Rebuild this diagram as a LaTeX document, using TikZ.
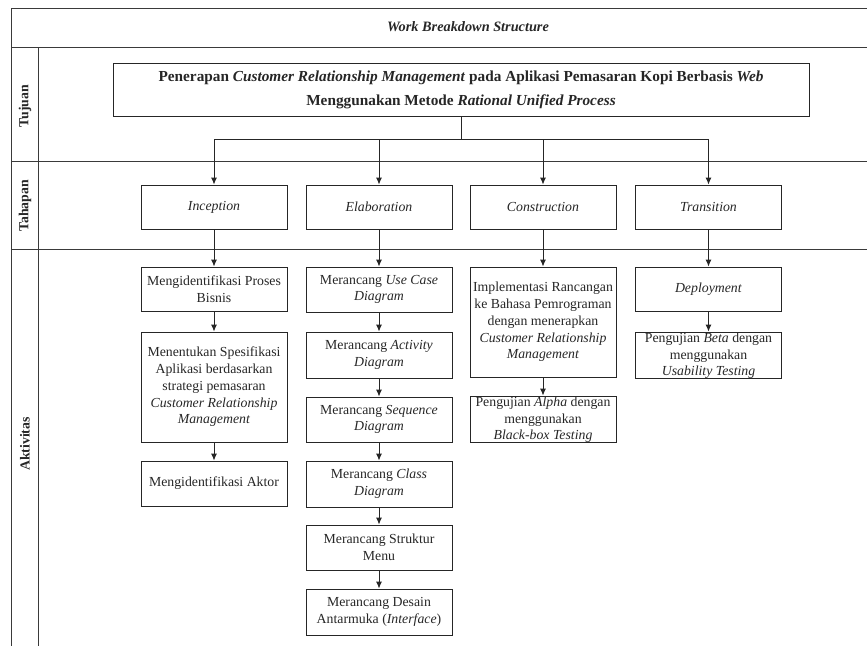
\documentclass[tikz,border=0pt]{standalone}
\usepackage{fontspec}
\setmainfont{Liberation Serif}
\usetikzlibrary{arrows.meta}
\definecolor{ink}{HTML}{262626}
\definecolor{grid}{HTML}{3A3A3A}
\tikzset{
  gridline/.style={draw=grid, line width=0.9pt},
  boxnode/.style={draw=ink, line width=0.9pt, rectangle, align=center, inner sep=1pt,
    minimum width=146pt, text=ink, font=\fontsize{13.8}{16.7}\selectfont},
  phasebox/.style={boxnode, minimum height=44pt},
  txtnode/.style={align=center, inner sep=0pt, text=ink, font=\fontsize{13.8}{16.5}\selectfont},
  mainbox/.style={draw=ink, line width=0.9pt, rectangle, align=center, minimum width=696pt,
    minimum height=53pt, inner sep=0pt, text=ink, font=\fontsize{15.3}{24}\selectfont\bfseries},
  sidelabel/.style={rotate=90, text=ink, font=\fontsize{13.8}{16}\selectfont\bfseries},
  arr/.style={draw=ink, line width=0.9pt, -{Latex[length=7pt,width=6pt]}},
  conn/.style={draw=ink, line width=0.9pt},
}
\begin{document}
\begin{tikzpicture}[x=1pt, y=-1pt]
\useasboundingbox (0,0) rectangle (867,646);
% frame
\draw[gridline] (11,8) -- (867,8);
\draw[gridline] (11,47) -- (867,47);
\draw[gridline] (11,161) -- (867,161);
\draw[gridline] (11,249) -- (867,249);
\draw[gridline] (11,8) -- (11,646);
\draw[gridline] (38,47) -- (38,646);
% titles
\node[text=ink, font=\fontsize{14.3}{16}\selectfont\bfseries\itshape] (title) at (468,27) {Work Breakdown Structure};
\node[sidelabel] (lt) at (25,106) {Tujuan};
\node[sidelabel] (lp) at (25,206) {Tahapan};
\node[sidelabel] (la) at (25,444) {Aktivitas};
% main
\node[mainbox] (main) at (461,89.5) {Penerapan \textit{Customer Relationship Management} pada Aplikasi Pemasaran Kopi Berbasis \textit{Web}\\Menggunakan Metode \textit{Rational Unified Process}};
\coordinate (hub) at (461,139);
% phases
\node[phasebox] (inc) at (214,207) {\textit{Inception}};
\node[phasebox] (ela) at (379,207) {\textit{Elaboration}};
\node[phasebox] (con) at (543,207) {\textit{Construction}};
\node[phasebox] (tra) at (708.5,207) {\textit{Transition}};
% inception activities
\node[boxnode, minimum height=44pt] (i1) at (214,289) {Mengidentifikasi Proses\\Bisnis};
\node[boxnode, minimum height=110pt] (i2) at (214,387) {Menentukan Spesifikasi\\Aplikasi berdasarkan\\strategi pemasaran\\\textit{Customer Relationship}\\\textit{Management}};
\node[boxnode, minimum height=45pt] (i3) at (214,483.5) {Mengidentifikasi Aktor};
% elaboration activities
\node[boxnode, minimum height=45pt] (e1) at (379,289.5) {Merancang \textit{Use Case}\\\textit{Diagram}};
\node[boxnode, minimum height=46pt] (e2) at (379,355) {Merancang \textit{Activity}\\\textit{Diagram}};
\node[boxnode, minimum height=45pt] (e3) at (379,419.5) {Merancang \textit{Sequence}\\\textit{Diagram}};
\node[boxnode, minimum height=46pt] (e4) at (379,484) {Merancang \textit{Class}\\\textit{Diagram}};
\node[boxnode, minimum height=45pt] (e5) at (379,547.5) {Merancang Struktur\\Menu};
\node[boxnode, minimum height=46pt] (e6) at (379,612) {Merancang Desain\\Antarmuka (\textit{Interface})};
% construction activities
\node[boxnode, minimum height=110pt] (c1) at (543,322) {Implementasi Rancangan\\ke Bahasa Pemrograman\\dengan menerapkan\\\textit{Customer Relationship}\\\textit{Management}};
\node[boxnode, minimum height=46pt] (c2) at (543,419) {};
\node[txtnode] (c2t) at (543,420) {Pengujian \textit{Alpha} dengan\\menggunakan\\\textit{Black-box Testing}};
% transition activities
\node[boxnode, minimum height=44pt] (t1) at (708.5,289) {\textit{Deployment}};
\node[boxnode, minimum height=46pt] (t2) at (708.5,355) {};
\node[txtnode] (t2t) at (708.5,356) {Pengujian \textit{Beta} dengan\\menggunakan\\\textit{Usability Testing}};
% connectors
\draw[conn] (main.south) -- (hub);
\draw[arr] (hub) -| (inc.north);
\draw[arr] (hub) -| (ela.north);
\draw[arr] (hub) -| (con.north);
\draw[arr] (hub) -| (tra.north);
\draw[arr] (inc) -- (i1);
\draw[arr] (i1) -- (i2);
\draw[arr] (i2) -- (i3);
\draw[arr] (ela) -- (e1);
\draw[arr] (e1) -- (e2);
\draw[arr] (e2) -- (e3);
\draw[arr] (e3) -- (e4);
\draw[arr] (e4) -- (e5);
\draw[arr] (e5) -- (e6);
\draw[arr] (con) -- (c1);
\draw[arr] (c1) -- (c2);
\draw[arr] (tra) -- (t1);
\draw[arr] (t1) -- (t2);
\end{tikzpicture}
\end{document}
